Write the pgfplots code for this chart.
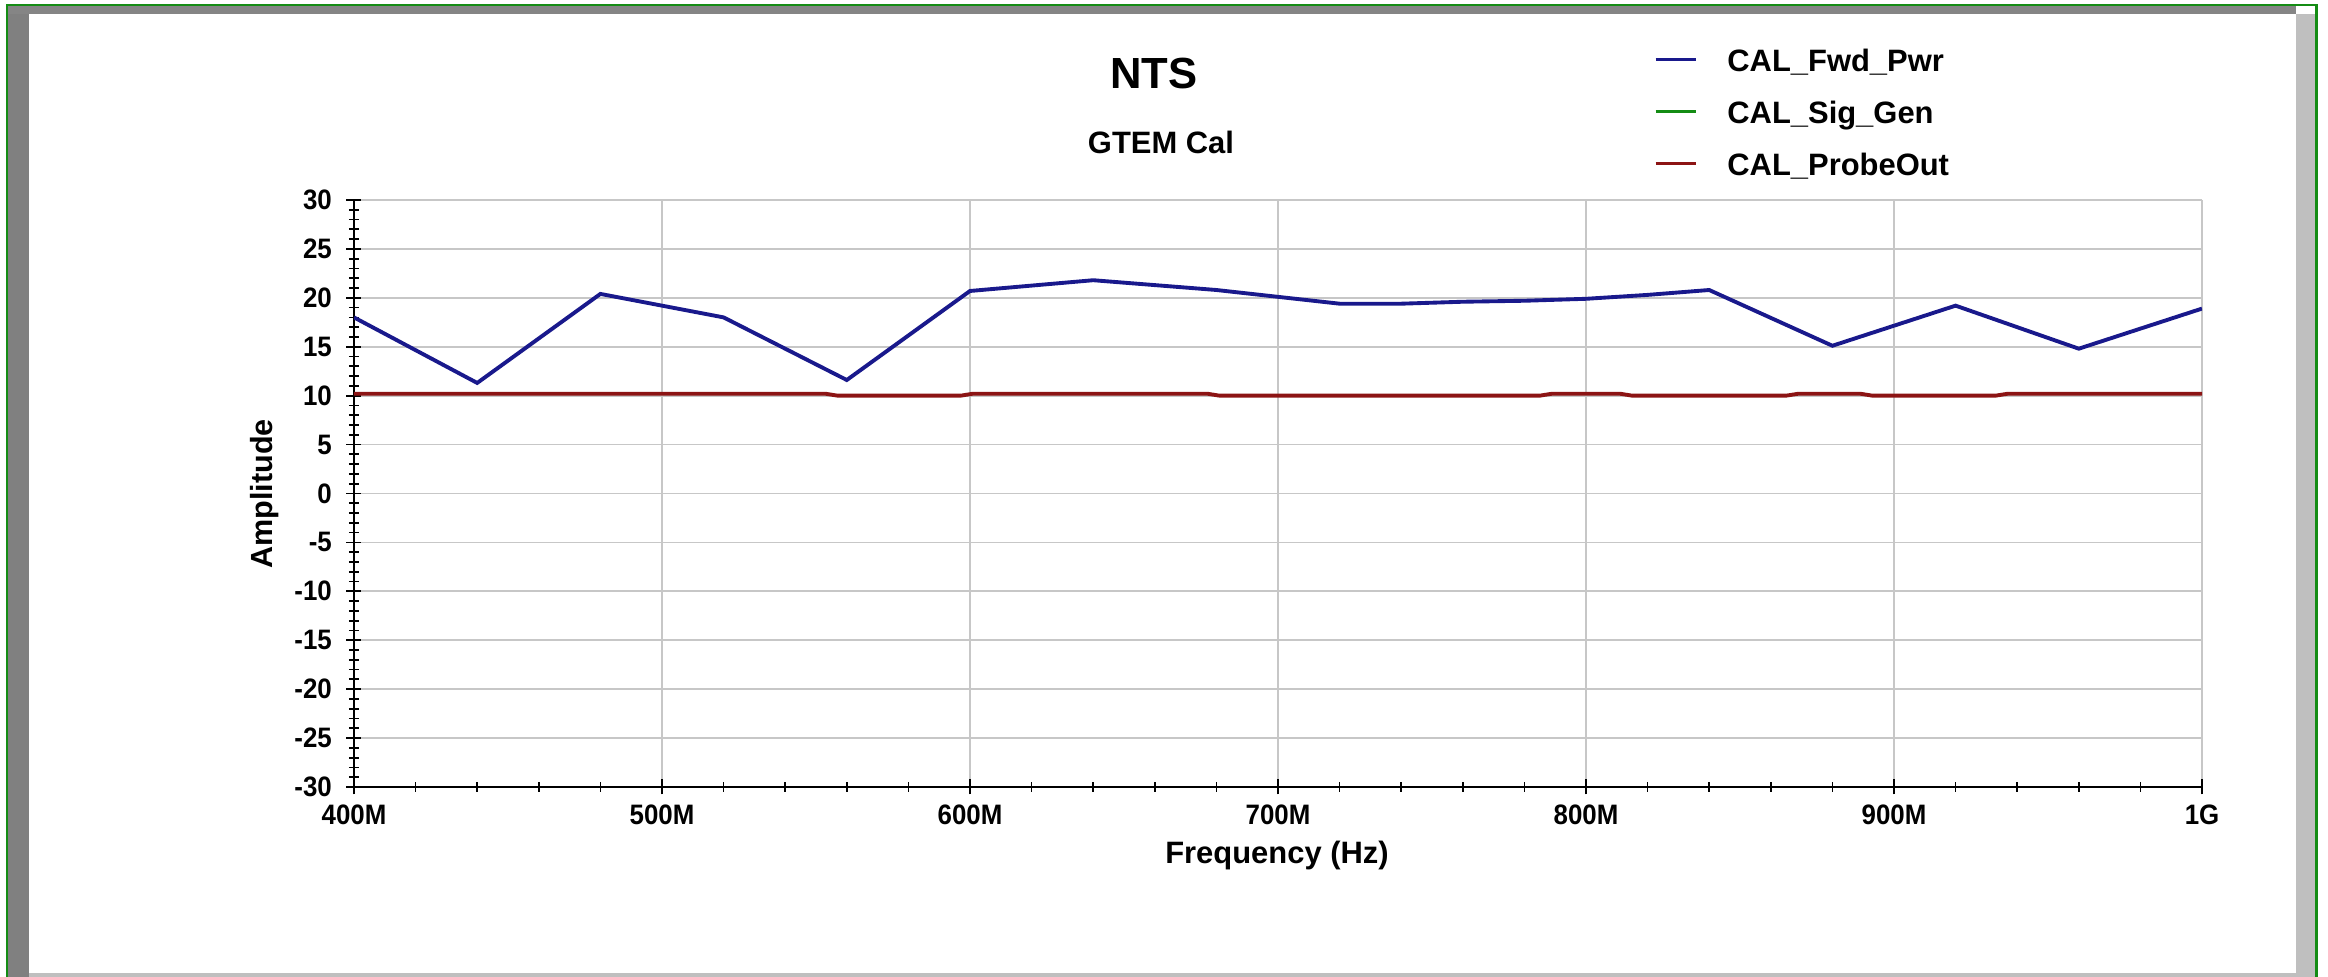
\documentclass[border=0pt]{standalone}
\usepackage{fontspec}
\setmainfont{Liberation Sans}
\newfontfamily\tickfont{Liberation Sans}[FakeStretch=0.92]
\usepackage{pgfplots}
\pgfplotsset{compat=1.18}
\definecolor{fwd}{RGB}{25,25,140}
\definecolor{sig}{RGB}{20,140,20}
\definecolor{probe}{RGB}{140,20,20}
\definecolor{frgreen}{RGB}{20,140,20}
\begin{document}
\begin{tikzpicture}
\useasboundingbox (0,0) rectangle (232.8mm,97.7mm);
\fill[white] (0,0) rectangle (232.8mm,97.7mm);
% window frame
\fill[black!50] (0.8mm,0) rectangle (2.9mm,97.1mm);
\fill[black!48] (0.8mm,96.3mm) rectangle (229.6mm,97.1mm);
\fill[black!25] (229.6mm,0) rectangle (231.5mm,96.3mm);
\fill[black!25] (2.9mm,0) rectangle (229.6mm,0.4mm);
\fill[frgreen] (0.6mm,0) rectangle (0.8mm,97.3mm);
\fill[frgreen] (0.6mm,97.05mm) rectangle (231.8mm,97.3mm);
\fill[frgreen] (231.5mm,0) rectangle (231.8mm,97.3mm);
% titles
\node[anchor=base, inner sep=0pt, font=\bfseries\fontsize{12.4}{14}\selectfont] at (115.4mm,88.8mm) {NTS};
\node[anchor=base, inner sep=0pt, font=\bfseries\fontsize{8.8}{10}\selectfont] at (116.1mm,82.3mm) {GTEM Cal};
\node[anchor=base, inner sep=0pt, font=\bfseries\fontsize{8.8}{10}\selectfont] at (127.7mm,11.3mm) {Frequency (Hz)};
\node[anchor=base, rotate=90, inner sep=0pt, font=\bfseries\fontsize{8.7}{10}\selectfont] at (27.2mm,48.3mm) {Amplitude};
\begin{axis}[
  at={(35.4mm,19.0mm)}, anchor=south west,
  scale only axis, width=184.8mm, height=58.7mm,
  xmin=400, xmax=1000, ymin=-30, ymax=30,
  axis x line*=bottom, axis y line*=left,
  axis line style={black, line width=0.7pt, -},
  xtick={400,500,...,1000},
  xticklabels={400M,500M,600M,700M,800M,900M,1G},
  ytick={-30,-25,...,30},
  minor x tick num=4, minor y tick num=4,
  tick align=center,
  major tick length=1.5mm, minor tick length=1.0mm,
  every tick/.style={black, line width=0.5pt},
  grid=major,
  major grid style={color=black!22, line width=0.5pt},
  /pgf/number format/assume math mode=true,
  ticklabel style={font=\tickfont\bfseries\fontsize{8}{9}\selectfont},
  every x tick label/.append style={inner sep=0pt, yshift=-1.0mm},
  every y tick label/.append style={inner sep=0pt, xshift=-1.4mm},
  legend style={at={(axis description cs:0.703,1.2589)}, anchor=north west,
    draw=none, fill=none, inner sep=0pt, row sep=2.2mm, column sep=3.0mm,
    font=\bfseries\fontsize{8.8}{10}\selectfont,
    nodes={inner sep=0pt, text height=2.3mm, text depth=0.7mm}},
  legend cell align=left,
  legend image code/.code={\draw[#1, line width=1pt] (0mm,0.4mm) -- (4mm,0.4mm);},
]
\addplot[fwd, line width=1.1pt] coordinates {
(400,18.0) (440,11.3) (480,20.4) (520,18.0) (560,11.6) (600,20.7)
(620,21.25) (640,21.8) (660,21.3) (680,20.8) (700,20.1) (720,19.4)
(740,19.4) (760,19.6) (780,19.7) (800,19.9) (820,20.3) (840,20.8)
(880,15.1) (920,19.2) (960,14.8) (1000,18.9)};
\addlegendentry{CAL\_Fwd\_Pwr}
\addlegendimage{sig, line width=1pt}
\addlegendentry{CAL\_Sig\_Gen}
\addplot[probe, line width=1.1pt] coordinates {
(400,10.2) (553,10.2) (557,10.0) (597,10.0) (601,10.2) (677,10.2)
(681,10.0) (785,10.0) (789,10.2) (811,10.2) (815,10.0) (865,10.0)
(869,10.2) (889,10.2) (893,10.0) (933,10.0) (937,10.2) (1000,10.2)};
\addlegendentry{CAL\_ProbeOut}
\end{axis}
\end{tikzpicture}
\end{document}
